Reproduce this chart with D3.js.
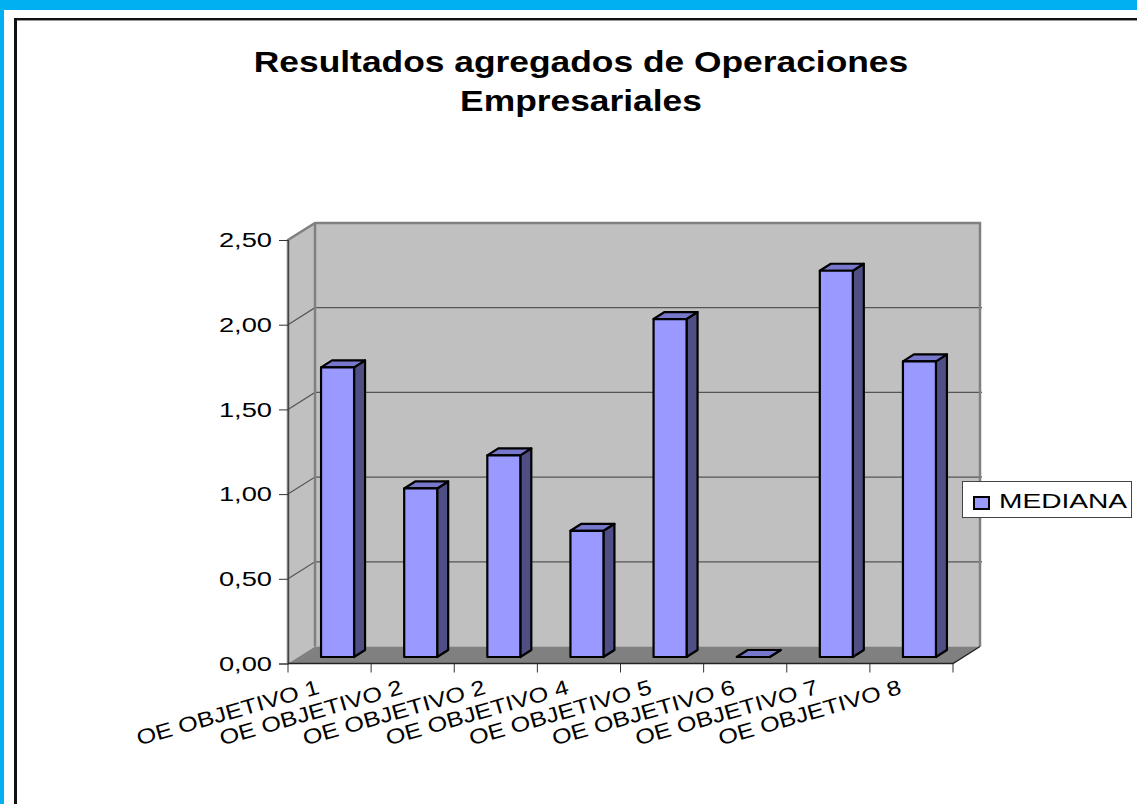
<!DOCTYPE html>
<html>
<head>
<meta charset="utf-8">
<script src="https://cdn.jsdelivr.net/npm/d3@7"></script>
<style>
  html, body { margin: 0; padding: 0; background: #fff; }
  svg { display: block; font-family: "Liberation Sans", Arial, sans-serif; }
</style>
</head>
<body>
<div id="chart"></div>
<script>
var categories = ['OE OBJETIVO 1', 'OE OBJETIVO 2', 'OE OBJETIVO 2', 'OE OBJETIVO 4',
                  'OE OBJETIVO 5', 'OE OBJETIVO 6', 'OE OBJETIVO 7', 'OE OBJETIVO 8'];
var mediana = [1.71, 0.995, 1.19, 0.745, 1.995, 0, 2.28, 1.745];
var yTicks = [0, 0.5, 1, 1.5, 2, 2.5];
var titleLines = ['Resultados agregados de Operaciones', 'Empresariales'];
var seriesName = 'MEDIANA';

var width = 1137, height = 804;

// the source picture has its text stretched sideways
var stretch = 1.3, legendStretch = 1.34, titleStretch = 1.22, labelStretch = 1.2;

// front plane of the 3d box, the back wall sits up and to the right
var plot = {left: 288, right: 953, top: 240, bottom: 663.5};
var depth = {x: 27, y: -17};

var x = d3.scaleBand()
    .domain(d3.range(categories.length))
    .range([plot.left, plot.right]);

var y = d3.scaleLinear()
    .domain([0, 2.5])
    .range([plot.bottom, plot.top]);

var svg = d3.select('#chart')
    .append('svg')
    .attr('width', width)
    .attr('height', height);

// page frame
svg.append('rect').attr('width', width).attr('height', height).attr('fill', '#00b0f0');
svg.append('rect').attr('x', 4).attr('y', 10).attr('width', width - 4).attr('height', height - 10).attr('fill', '#fff');
svg.append('rect').attr('x', 14).attr('y', 18).attr('width', 3).attr('height', height - 18).attr('fill', '#111');
svg.append('rect').attr('x', 14).attr('y', 18).attr('width', width - 14).attr('height', 2).attr('fill', '#111');
svg.append('rect').attr('x', 17).attr('y', 20).attr('width', width - 17).attr('height', 1).attr('fill', '#999');

// title
svg.append('g').selectAll('text')
    .data(titleLines).enter()
    .append('text')
    .attr('text-anchor', 'middle')
    .attr('transform', (d, i) => 'translate(581,' + (72 + i * 39) + ') scale(' + titleStretch + ',1)')
    .attr('font-size', 29)
    .attr('font-weight', 'bold')
    .attr('fill', '#000')
    .text(d => d);

var backL = plot.left + depth.x, backR = plot.right + depth.x;

// walls
svg.append('polygon')
    .attr('points', [[plot.left, plot.top], [backL, plot.top + depth.y], [backL, plot.bottom + depth.y], [plot.left, plot.bottom]].join(' '))
    .attr('fill', '#c0c0c0');
svg.append('rect')
    .attr('x', backL).attr('y', plot.top + depth.y)
    .attr('width', plot.right - plot.left).attr('height', plot.bottom - plot.top)
    .attr('fill', '#c0c0c0');
svg.append('polygon')
    .attr('points', [[plot.left, plot.bottom], [backL, plot.bottom + depth.y], [backR, plot.bottom + depth.y], [plot.right, plot.bottom]].join(' '))
    .attr('fill', '#808080');

// gridlines on both walls
svg.append('g').selectAll('path')
    .data(yTicks.filter(d => d > 0 && d < 2.5)).enter()
    .append('path')
    .attr('d', d => 'M' + plot.left + ',' + y(d) + 'L' + backL + ',' + (y(d) + depth.y) + 'H' + (backR + 2))
    .attr('fill', 'none')
    .attr('stroke', '#555')
    .attr('stroke-width', 1.2);

// wall outlines
svg.append('path')
    .attr('d', 'M' + plot.left + ',' + plot.bottom + 'V' + plot.top + 'L' + backL + ',' + (plot.top + depth.y) + 'H' + backR + 'V' + (plot.bottom + depth.y)
        + 'M' + backL + ',' + (plot.top + depth.y) + 'V' + (plot.bottom + depth.y))
    .attr('fill', 'none')
    .attr('stroke', '#808080')
    .attr('stroke-width', 2.5);

// y axis
var yAxis = d3.axisLeft(y)
    .tickValues(yTicks)
    .tickSize(9)
    .tickPadding(7)
    .tickFormat(d => d3.format('.2f')(d).replace('.', ','));

var yG = svg.append('g')
    .attr('transform', 'translate(' + plot.left + ',0)')
    .call(yAxis);
yG.select('.domain').attr('stroke', '#444').attr('stroke-width', 1.2);
yG.selectAll('line').attr('stroke', '#333');
yG.selectAll('text')
    .attr('font-size', 21)
    .attr('font-family', '"Liberation Sans", Arial, sans-serif')
    .attr('fill', '#000')
    .attr('x', -16 / stretch)
    .attr('transform', 'scale(' + stretch + ',1)');

// x axis line and ticks
svg.append('path')
    .attr('d', 'M' + plot.left + ',' + plot.bottom + 'H' + plot.right + 'L' + backR + ',' + (plot.bottom + depth.y))
    .attr('fill', 'none')
    .attr('stroke', '#222')
    .attr('stroke-width', 1.4);
svg.append('g').selectAll('line')
    .data(d3.range(categories.length + 1)).enter()
    .append('line')
    .attr('x1', d => plot.left + d * x.step())
    .attr('x2', d => plot.left + d * x.step())
    .attr('y1', plot.bottom)
    .attr('y2', plot.bottom + 9)
    .attr('stroke', '#333');

// bars
var barW = 33, side = {x: 11, y: -7};
var barX = i => x(i) + x.step() / 2 - barW / 2 + 8;
var base = plot.bottom - 6.5;
var barY = d => base - (y(0) - y(d));

var bars = svg.append('g').selectAll('g')
    .data(mediana).enter()
    .append('g')
    .attr('stroke', '#000')
    .attr('stroke-width', 2.2)
    .attr('stroke-linejoin', 'round');

// right side
bars.append('polygon')
    .attr('fill', '#4f4f85')
    .attr('points', (d, i) => {
        var r = barX(i) + barW;
        return [[r, barY(d)], [r + side.x, barY(d) + side.y], [r + side.x, base + side.y], [r, base]].join(' ');
    });
// top
bars.append('polygon')
    .attr('fill', '#7777cc')
    .attr('points', (d, i) => {
        var l = barX(i);
        return [[l, barY(d)], [l + side.x, barY(d) + side.y], [l + barW + side.x, barY(d) + side.y], [l + barW, barY(d)]].join(' ');
    });
// front
bars.append('rect')
    .attr('fill', '#9999ff')
    .attr('x', (d, i) => barX(i))
    .attr('y', d => barY(d))
    .attr('width', barW)
    .attr('height', d => base - barY(d));

// category labels, rotated
svg.append('g').selectAll('text')
    .data(categories).enter()
    .append('text')
    .attr('text-anchor', 'end')
    .attr('font-size', 21)
    .attr('fill', '#000')
    .attr('transform', (d, i) => 'translate(' + (x(i) + x.step() / 2 - 9) + ',' + (plot.bottom + 30) + ') rotate(-16) scale(' + labelStretch + ',1)')
    .text(d => d);

// legend
svg.append('rect')
    .attr('x', 962.5).attr('y', 481.5).attr('width', 169).attr('height', 36)
    .attr('fill', '#fff').attr('stroke', '#444');
svg.append('rect')
    .attr('x', 974).attr('y', 497).attr('width', 15).attr('height', 12)
    .attr('fill', '#9999ff').attr('stroke', '#000').attr('stroke-width', 2);
svg.append('text')
    .attr('transform', 'translate(999,508) scale(' + legendStretch + ',1)')
    .attr('font-size', 21)
    .attr('fill', '#000')
    .text(seriesName);
</script>
</body>
</html>
